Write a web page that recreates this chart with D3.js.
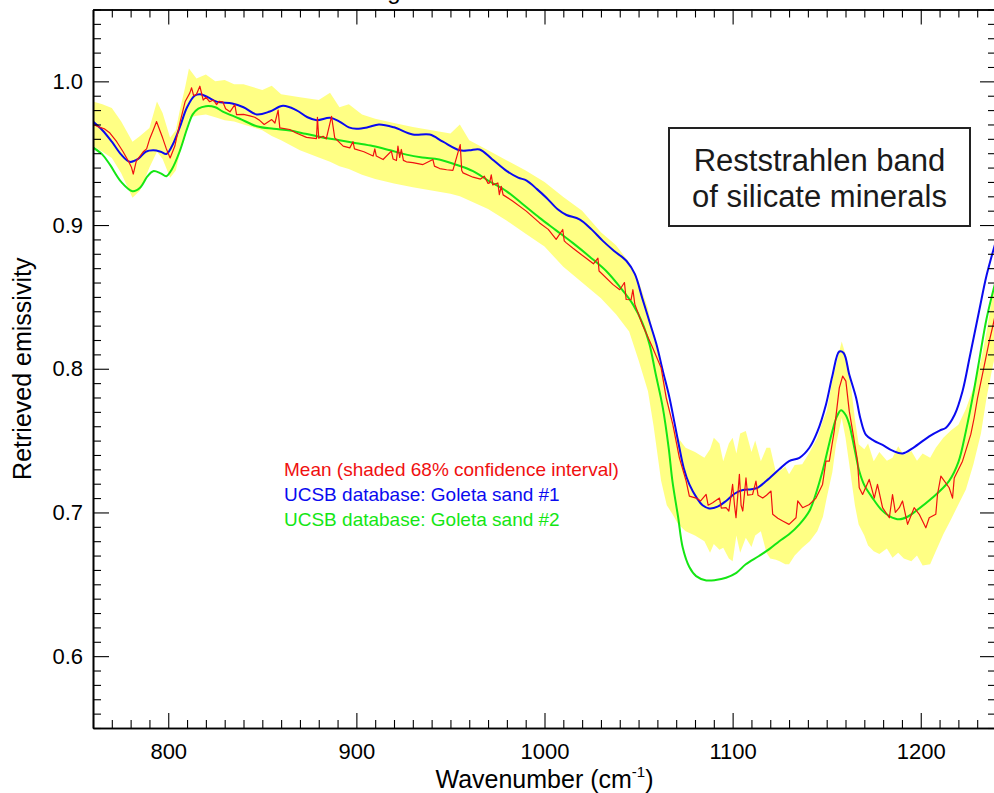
<!DOCTYPE html>
<html>
<head>
<meta charset="utf-8">
<script src="https://cdn.jsdelivr.net/npm/d3@7/dist/d3.min.js"></script>
<style>
  html, body { margin: 0; padding: 0; background: #fff; overflow: hidden; }
  svg { display: block; font-family: "Liberation Sans", Arial, Helvetica, sans-serif; }
  .axis path, .axis line { stroke: #000; }
  .axis path { stroke-width: 1.6; }
  .axis line { stroke-width: 1.1; }
</style>
</head>
<body>
<svg id="chart" width="994" height="793"></svg>
<script>
// ---- data: wavenumber (cm-1) vs retrieved emissivity ----
const xTicks = [800, 900, 1000, 1100, 1200];
const yTicks = [0.6, 0.7, 0.8, 0.9, 1.0];

// UCSB library spectrum, Goleta sand #1
const goletaSand1 = [
  [760,0.972],[765,0.966],[770,0.958],[775,0.949],[779.6,0.944],[784,0.946],[788,0.951],
  [792,0.952],[796,0.951],[799,0.9495],[802,0.955],[806,0.9676],[810,0.982],[814,0.990],
  [817,0.991],[821,0.989],[826,0.9857],[834,0.9846],[840,0.982],[847,0.977],[854,0.979],
  [861,0.983],[868,0.980],[874,0.975],[879,0.973],[886,0.9746],[891,0.972],[896,0.968],
  [900,0.967],[906,0.968],[912,0.970],[920,0.968],[930,0.963],[939,0.963],[946,0.958],
  [955,0.952],[960,0.952],[965.5,0.9526],[972,0.946],[980,0.9375],[986,0.933],[990.5,0.931],
  [996,0.925],[1001,0.919],[1007,0.911],[1011.7,0.907],[1018.6,0.904],[1025,0.897],
  [1031,0.889],[1037,0.882],[1043.6,0.875],[1048,0.866],[1052,0.849],[1056,0.832],
  [1059.5,0.817],[1063,0.798],[1066.4,0.780],[1069,0.763],[1071.7,0.745],[1074,0.731],
  [1077,0.7195],[1081,0.710],[1084,0.705],[1087.7,0.7028],[1092,0.704],[1096.5,0.708],
  [1101,0.713],[1105,0.7154],[1110,0.7162],[1113,0.717],[1118,0.722],[1124.8,0.730],
  [1130,0.7357],[1135.5,0.738],[1140.8,0.745],[1145,0.756],[1149.6,0.775],[1153,0.795],
  [1156.7,0.812],[1159,0.811],[1162,0.796],[1165.6,0.780],[1168,0.765],[1170.9,0.754],
  [1175,0.750],[1179.7,0.747],[1185,0.743],[1190.3,0.741],[1196,0.745],[1204.5,0.753],
  [1210,0.757],[1213.4,0.759],[1218,0.768],[1222.2,0.7844],[1226,0.808],[1231,0.840],
  [1235,0.865],[1240,0.889]
];

// UCSB library spectrum, Goleta sand #2
const goletaSand2 = [
  [760,0.954],[765,0.949],[769,0.942],[775,0.930],[781,0.9236],[785,0.926],[789,0.934],
  [792,0.9375],[796,0.936],[799,0.934],[802,0.939],[806,0.951],[810,0.967],[813,0.977],
  [816,0.981],[820,0.9827],[825,0.982],[829,0.979],[838,0.974],[847,0.9688],[856,0.967],
  [864.6,0.9658],[873,0.9635],[882,0.961],[891,0.959],[900,0.957],[908.7,0.955],[918,0.952],
  [926.6,0.949],[935,0.947],[944,0.9456],[953,0.942],[962,0.9375],[970,0.931],[979.7,0.9236],
  [988,0.915],[997.4,0.905],[1006,0.8965],[1015,0.8876],[1024,0.878],[1032.8,0.868],
  [1040,0.857],[1047,0.8448],[1052,0.832],[1055.8,0.817],[1059,0.797],[1062.9,0.7728],
  [1066,0.745],[1068,0.7218],[1071,0.697],[1073.5,0.6754],[1077,0.662],[1080.6,0.6557],
  [1086,0.6527],[1091,0.653],[1096.5,0.6546],[1102,0.658],[1107,0.6639],[1114,0.6697],
  [1120,0.675],[1124.8,0.680],[1130,0.6848],[1135.5,0.6917],[1140.8,0.701],[1144,0.712],
  [1147.8,0.7288],[1151,0.746],[1153,0.7566],[1155.5,0.767],[1157.6,0.7712],[1160,0.768],
  [1162,0.7613],[1165,0.743],[1167.3,0.7288],[1170,0.719],[1174.4,0.710],[1179,0.702],
  [1183.3,0.6975],[1188.6,0.6952],[1193,0.697],[1197.4,0.701],[1206,0.710],[1215,0.7218],
  [1220,0.735],[1224,0.7566],[1228,0.783],[1231,0.8053],[1235,0.835],[1240,0.862]
];

// mean retrieved emissivity
const meanSpectrum = [
  [760,0.970],[763.7,0.968],[766,0.967],[769,0.964],[772.6,0.958],[776,0.951],[779,0.944],
  [780.5,0.940],[781.4,0.9355],[783,0.9445],[786.7,0.951],[788.5,0.953],[790,0.9595],
  [792,0.966],[793.8,0.972],[795.5,0.966],[797,0.9607],[799,0.953],[801,0.9467],[803.5,0.955],
  [806,0.970],[809,0.986],[811.5,0.992],[812.4,0.9955],[813.5,0.990],[815,0.991],[816.8,0.9966],
  [818.6,0.987],[820,0.989],[822,0.9858],[824,0.987],[825.7,0.9838],[827,0.986],[829,0.9858],
  [830.5,0.981],[832.8,0.9788],[835.4,0.9838],[836.3,0.9769],[840,0.977],[843.4,0.976],
  [846,0.975],[848.7,0.9727],[851,0.970],[855,0.9734],[856.7,0.971],[858.4,0.980],[859.3,0.9676],
  [864.6,0.9665],[868,0.9641],[873.5,0.961],[878.8,0.9602],[879.3,0.975],[880,0.9605],
  [882.3,0.9618],[884,0.960],[886.8,0.9757],[888.5,0.9607],[893,0.9549],[896.5,0.9537],
  [898.2,0.958],[899,0.953],[904,0.951],[908.9,0.948],[909.8,0.953],[910.6,0.948],[914.2,0.9456],
  [918.6,0.9514],[919.5,0.946],[921.3,0.9449],[922.1,0.955],[923,0.947],[923.9,0.9526],
  [925,0.945],[926.6,0.944],[930,0.9435],[935.4,0.9421],[940.7,0.9456],[941.5,0.941],
  [944.3,0.9393],[948,0.9385],[951.3,0.938],[955.2,0.956],[956,0.938],[956.7,0.9363],
  [962,0.9333],[966,0.932],[968,0.934],[970,0.929],[970.8,0.9293],[971.7,0.935],[972.5,0.928],
  [975.2,0.9293],[976,0.9212],[977,0.927],[978,0.921],[983.2,0.9166],[990.3,0.9097],
  [997.4,0.9015],[1002,0.897],[1006.2,0.890],[1009.7,0.8969],[1010.5,0.889],[1011.6,0.8876],
  [1015,0.884],[1022,0.877],[1026,0.873],[1028.4,0.877],[1029,0.868],[1036.3,0.8587],
  [1040,0.855],[1042.5,0.860],[1043.4,0.8482],[1046,0.848],[1047,0.855],[1048,0.845],
  [1052,0.8308],[1057.5,0.8146],[1062,0.8006],[1064.7,0.7798],[1068.2,0.7613],[1071.7,0.738],
  [1075.3,0.7218],[1077,0.7114],[1080.6,0.710],[1083,0.708],[1085.9,0.7125],[1087,0.705],
  [1089.4,0.7067],[1093,0.710],[1094,0.703],[1096.5,0.7033],[1098,0.701],[1100,0.7195],
  [1101,0.705],[1101.8,0.6963],[1103.6,0.7265],[1104.5,0.705],[1105.4,0.701],[1107.1,0.724],
  [1108,0.712],[1110.6,0.7125],[1112.4,0.7218],[1113.5,0.712],[1116,0.710],[1118,0.712],
  [1120.4,0.7149],[1121.3,0.6987],[1124,0.696],[1126.6,0.694],[1130,0.6917],[1133.7,0.6963],
  [1134.6,0.708],[1137.2,0.7033],[1140.8,0.7055],[1144.3,0.710],[1147.8,0.7195],[1149.6,0.7357],
  [1151.4,0.7357],[1154,0.7566],[1156.7,0.7867],[1158.5,0.7949],[1160.2,0.7914],[1162,0.7705],
  [1163.8,0.7566],[1166.4,0.7357],[1167.3,0.7172],[1169.1,0.7125],[1172.6,0.723],[1175.3,0.710],
  [1177,0.7195],[1179.7,0.7033],[1183.3,0.6963],[1185,0.7125],[1186.5,0.700],[1188.6,0.7033],
  [1190.3,0.708],[1193,0.6917],[1196.5,0.7033],[1199.2,0.6987],[1202.7,0.6893],[1204.5,0.6963],
  [1208,0.6987],[1208.9,0.7125],[1210.7,0.7253],[1215.1,0.7172],[1216.9,0.710],[1217.8,0.724],
  [1222.2,0.7357],[1226.6,0.7543],[1228.4,0.7659],[1230.2,0.7798],[1232.8,0.796],
  [1236.4,0.819],[1238.5,0.8308],[1240,0.840]
];

// 68% confidence interval: [wavenumber, lower, upper]
const confidenceBand = [
  [760,0.955,0.986],[765,0.951,0.984],[770,0.9467,0.9815],[775,0.936,0.972],[781,0.919,0.958],
  [785,0.924,0.962],[790,0.940,0.9676],[794,0.951,0.986],[797,0.946,0.978],[801,0.933,0.9607],
  [804,0.938,0.966],[806,0.949,0.979],[809,0.962,0.996],[811,0.9746,1.009],[815,0.976,1.002],
  [820,0.977,1.0047],[825,0.975,1.000],[830,0.973,1.001],[835,0.972,0.998],[840,0.970,0.998],
  [850,0.966,0.994],[855,0.962,0.997],[860,0.959,0.991],[870,0.952,0.989],[880,0.947,0.987],
  [886,0.944,0.992],[891,0.941,0.982],[896,0.939,0.984],[903,0.935,0.977],[910,0.932,0.974],
  [920,0.929,0.971],[930,0.9263,0.9683],[940,0.924,0.966],[950,0.9217,0.9637],[955,0.920,0.970],
  [960,0.917,0.959],[970,0.9112,0.952],[980,0.903,0.945],[990,0.894,0.938],[1000,0.885,0.930],
  [1010,0.871,0.9196],[1020,0.860,0.910],[1030,0.849,0.895],[1038,0.838,0.886],[1045,0.826,0.874],
  [1050,0.806,0.861],[1055,0.7844,0.842],[1058,0.760,0.823],[1062,0.7218,0.803],[1065,0.705,0.783],
  [1068,0.699,0.761],[1071,0.692,0.752],[1075,0.687,0.745],[1080,0.684,0.742],[1085,0.680,0.738],
  [1088,0.672,0.744],[1090,0.678,0.752],[1093,0.674,0.748],[1095,0.6754,0.7357],[1098,0.668,0.748],
  [1100,0.666,0.752],[1102,0.684,0.741],[1104,0.672,0.755],[1107,0.6824,0.7566],[1110,0.676,0.742],
  [1112,0.684,0.750],[1115,0.687,0.7357],[1118,0.672,0.745],[1120,0.668,0.745],[1123,0.667,0.728],
  [1125,0.666,0.7288],[1128,0.664,0.732],[1130,0.6639,0.7265],[1133,0.670,0.733],[1137,0.6754,0.7335],
  [1141,0.680,0.742],[1145,0.687,0.752],[1148,0.697,0.764],[1150,0.710,0.7705],[1153,0.728,0.792],
  [1155,0.7475,0.803],[1158,0.7659,0.819],[1160,0.752,0.810],[1162,0.7335,0.798],[1165,0.705,0.765],
  [1167,0.6917,0.7474],[1170,0.684,0.744],[1172,0.677,0.748],[1175,0.673,0.7357],[1178,0.671,0.742],
  [1182,0.675,0.736],[1185,0.6685,0.738],[1188,0.672,0.746],[1191,0.668,0.740],[1195,0.666,0.7427],
  [1198,0.670,0.736],[1201,0.663,0.741],[1205,0.6639,0.738],[1208,0.673,0.745],[1212,0.6848,0.752],
  [1216,0.695,0.757],[1220,0.7055,0.761],[1224,0.716,0.772],[1228,0.7335,0.7867],[1232,0.755,0.806],
  [1235,0.780,0.826],[1238,0.800,0.850],[1240,0.812,0.865]
];

const legendLabels = [
  "Mean (shaded 68% confidence interval)",
  "UCSB database: Goleta sand #1",
  "UCSB database: Goleta sand #2"
];
const noteLines = ["Reststrahlen band", "of silicate minerals"];

// ---- styling ----
const colors = { band: "#ffff84", mean: "#f01010", sand1: "#0a0af0", sand2: "#14e614" };

const svg = d3.select("#chart");
const plot = { left: 93, right: 996, top: 9.5, bottom: 728 };

const x = d3.scaleLinear().domain([760, 1240]).range([plot.left, plot.right]);
const y = d3.scaleLinear().domain([0.55, 1.05]).range([plot.bottom, plot.top]);

// title sits above the frame
svg.append("text")
  .attr("x", 540).attr("y", -1)
  .attr("text-anchor", "middle")
  .attr("font-size", 24)
  .text("Algodones Dunes mean retrieval");

svg.append("defs").append("clipPath").attr("id", "plotClip")
  .append("rect")
  .attr("x", plot.left).attr("y", plot.top)
  .attr("width", plot.right - plot.left).attr("height", plot.bottom - plot.top);

const data = svg.append("g").attr("clip-path", "url(#plotClip)");

data.append("path")
  .datum(confidenceBand)
  .attr("fill", colors.band)
  .attr("stroke", "none")
  .attr("d", d3.area().x(d => x(d[0])).y0(d => y(d[1])).y1(d => y(d[2])));

const smooth = d3.line().x(d => x(d[0])).y(d => y(d[1])).curve(d3.curveCatmullRom.alpha(0.5));
const jagged = d3.line().x(d => x(d[0])).y(d => y(d[1]));

data.append("path").datum(goletaSand2)
  .attr("fill", "none").attr("stroke", colors.sand2).attr("stroke-width", 2)
  .attr("d", smooth);
data.append("path").datum(goletaSand1)
  .attr("fill", "none").attr("stroke", colors.sand1).attr("stroke-width", 2)
  .attr("d", smooth);
data.append("path").datum(meanSpectrum)
  .attr("fill", "none").attr("stroke", colors.mean).attr("stroke-width", 1.2)
  .attr("stroke-linejoin", "round")
  .attr("d", jagged);

// ---- axes: ticks point inward on all four sides ----
const xMinor = d3.range(760, 1241, 10).filter(v => !xTicks.includes(v));
const yMinor = d3.range(55, 106, 1).map(v => v / 100).filter(v => !yTicks.some(t => Math.abs(t - v) < 1e-9));

function styleAxis(g) { g.classed("axis", true); g.selectAll("text").attr("fill", "#000"); }

// bottom
svg.append("g").attr("transform", `translate(0,${plot.bottom})`)
  .call(d3.axisBottom(x).tickValues(xMinor).tickSize(-8).tickSizeOuter(0).tickFormat(""))
  .call(styleAxis);
svg.append("g").attr("transform", `translate(0,${plot.bottom})`)
  .call(d3.axisBottom(x).tickValues(xTicks).tickSize(-15).tickSizeOuter(0).tickPadding(15)
        .tickFormat(d3.format("d")))
  .call(styleAxis)
  .call(g => g.selectAll("text").attr("font-size", 22).attr("font-family", null));

// top
svg.append("g").attr("transform", `translate(0,${plot.top})`)
  .call(d3.axisTop(x).tickValues(xMinor).tickSize(-8).tickSizeOuter(0).tickFormat(""))
  .call(styleAxis);
svg.append("g").attr("transform", `translate(0,${plot.top})`)
  .call(d3.axisTop(x).tickValues(xTicks).tickSize(-15).tickSizeOuter(0).tickFormat(""))
  .call(styleAxis);

// left
svg.append("g").attr("transform", `translate(${plot.left},0)`)
  .call(d3.axisLeft(y).tickValues(yMinor).tickSize(-8).tickSizeOuter(0).tickFormat(""))
  .call(styleAxis);
svg.append("g").attr("transform", `translate(${plot.left},0)`)
  .call(d3.axisLeft(y).tickValues(yTicks).tickSize(-16).tickSizeOuter(0).tickPadding(10)
        .tickFormat(d3.format(".1f")))
  .call(styleAxis)
  .call(g => g.selectAll("text").attr("font-size", 22).attr("font-family", null));

// right
svg.append("g").attr("transform", `translate(${plot.right},0)`)
  .call(d3.axisRight(y).tickValues(yMinor).tickSize(-8).tickSizeOuter(0).tickFormat(""))
  .call(styleAxis);
svg.append("g").attr("transform", `translate(${plot.right},0)`)
  .call(d3.axisRight(y).tickValues(yTicks).tickSize(-16).tickSizeOuter(0).tickFormat(""))
  .call(styleAxis);

// axis titles
svg.append("text")
  .attr("transform", `translate(31,${(plot.top + plot.bottom) / 2}) rotate(-90)`)
  .attr("text-anchor", "middle").attr("font-size", 25)
  .text("Retrieved emissivity");

const xTitle = svg.append("text")
  .attr("x", (plot.left + plot.right) / 2).attr("y", 787.5)
  .attr("text-anchor", "middle").attr("font-size", 25);
xTitle.append("tspan").text("Wavenumber (cm");
xTitle.append("tspan").attr("font-size", 15).attr("dy", -11).text("-1");
xTitle.append("tspan").attr("dy", 11).text(")");

// legend
const legendColors = [colors.mean, colors.sand1, colors.sand2];
svg.append("g").selectAll("text")
  .data(legendLabels)
  .join("text")
  .attr("x", 284).attr("y", (d, i) => 476 + i * 25)
  .attr("font-size", 19)
  .attr("fill", (d, i) => legendColors[i])
  .text(d => d);

// annotation box
const note = svg.append("g");
note.append("rect")
  .attr("x", 669).attr("y", 128).attr("width", 301).attr("height", 98)
  .attr("fill", "#fff").attr("stroke", "#222").attr("stroke-width", 2);
note.selectAll("text")
  .data(noteLines)
  .join("text")
  .attr("x", 819.5).attr("y", (d, i) => 171 + i * 36)
  .attr("text-anchor", "middle").attr("font-size", 31).attr("fill", "#1a1a1a")
  .text(d => d);
</script>
</body>
</html>
